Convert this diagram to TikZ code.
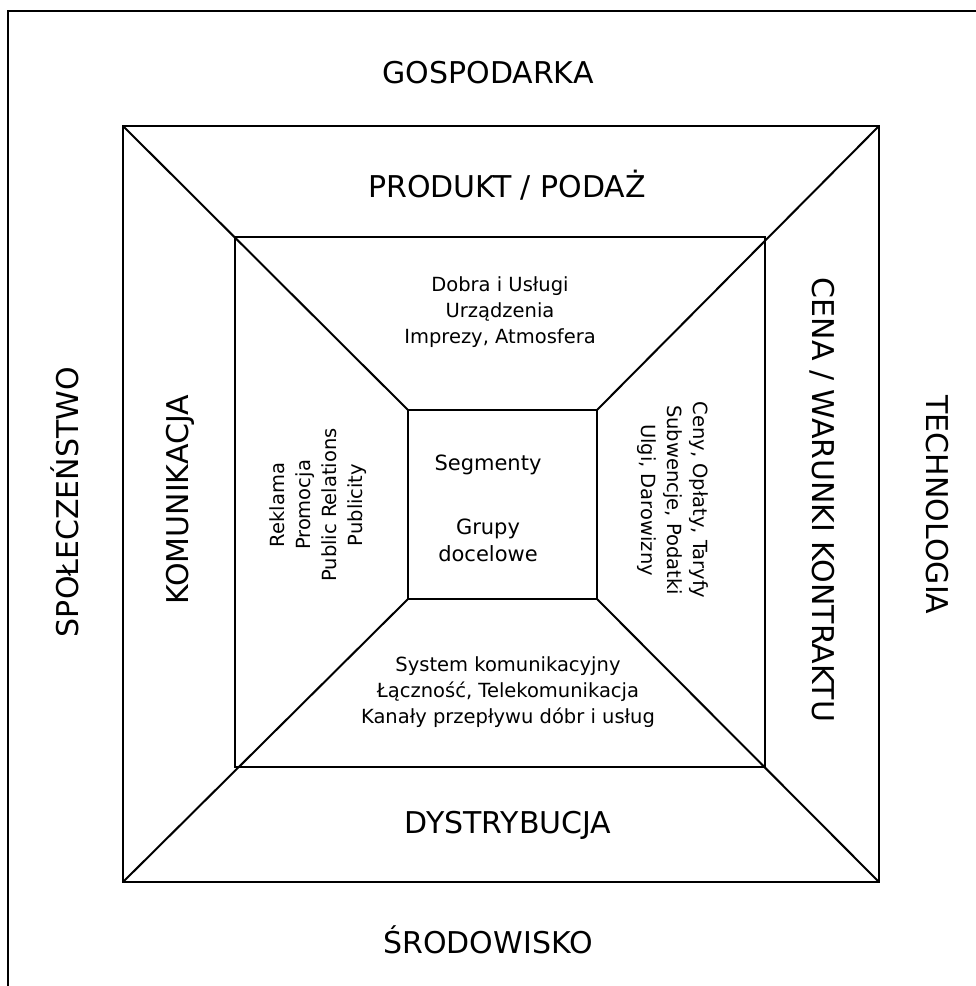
\documentclass[tikz,border=0pt]{standalone}
\usepackage{fontspec}
\setmainfont{DejaVu Sans}
\usetikzlibrary{positioning}

\begin{document}
\begin{tikzpicture}[
  x=1pt,y={(0pt,-1pt)},
  frame/.style={draw=black,line width=2pt},
  big/.style={font=\fontsize{30}{34}\selectfont,inner sep=0pt},
  small/.style={font=\fontsize{19.5}{26}\selectfont,align=center,inner sep=0pt},
  mid/.style={font=\fontsize{21}{27}\selectfont,align=center,inner sep=0pt}
]
  \useasboundingbox (0,0) rectangle (976,986);

  % ── Corners of the three squares ─────────────────────────────────────────
  \coordinate (o1) at (123,126); \coordinate (o2) at (879,126);
  \coordinate (o3) at (879,882); \coordinate (o4) at (123,882);
  \coordinate (m1) at (235,237); \coordinate (m2) at (765,237);
  \coordinate (m3) at (765,767); \coordinate (m4) at (235,767);
  \coordinate (i1) at (408,410); \coordinate (i2) at (597,410);
  \coordinate (i3) at (597,599); \coordinate (i4) at (408,599);

  \draw[frame] (8,986) -- (8,11) -- (976,11);
  \draw[frame] (o1) -- (o2) -- (o3) -- (o4) -- cycle;
  \draw[frame] (m1) -- (m2) -- (m3) -- (m4) -- cycle;
  \draw[frame] (i1) -- (i2) -- (i3) -- (i4) -- cycle;
  \draw[frame] (o1) -- (i1); \draw[frame] (o2) -- (i2);
  \draw[frame] (o3) -- (i3); \draw[frame] (o4) -- (i4);

  % ── Outer ring ────────────────────────────────────────────────────────────
  \node[big] (eco)  at (488,73)  {GOSPODARKA};
  \node[big] (env)  at (488,940) {ŚRODOWISKO};
  \node[big,rotate=90]  (soc)  at (65,502)  {SPOŁECZEŃSTWO};
  \node[big,rotate=-90] (tech) at (937,505) {TECHNOLOGIA};

  % ── Middle ring ───────────────────────────────────────────────────────────
  \node[big] (prod) at (507,185) {PRODUKT / PODAŻ};
  \node[big] (dist) at (508,825) {DYSTRYBUCJA};
  \node[big,rotate=90]  (kom)  at (180,500) {KOMUNIKACJA};
  \node[big,rotate=-90] (cena) at (822,500) {CENA / WARUNKI KONTRAKTU};

  % ── Inner ring ────────────────────────────────────────────────────────────
  \node[small] (prodx) at (500,312) {Dobra i Usługi\\Urządzenia\\Imprezy, Atmosfera};
  \node[small] (distx) at (508,692) {System komunikacyjny\\Łączność, Telekomunikacja\\Kanały przepływu dóbr i usług};
  \node[small,rotate=90]  (komx)  at (318,505) {Reklama\\Promocja\\Public Relations\\Publicity};
  \node[small,rotate=-90] (cenax) at (673,500) {Ceny, Opłaty, Taryfy\\Subwencje, Podatki\\Ulgi, Darowizny};

  % ── Centre ────────────────────────────────────────────────────────────────
  \node[mid] (seg) at (488,465) {Segmenty};
  \node[mid,below=44pt of seg] (grp) {Grupy\\docelowe};
\end{tikzpicture}
\end{document}
